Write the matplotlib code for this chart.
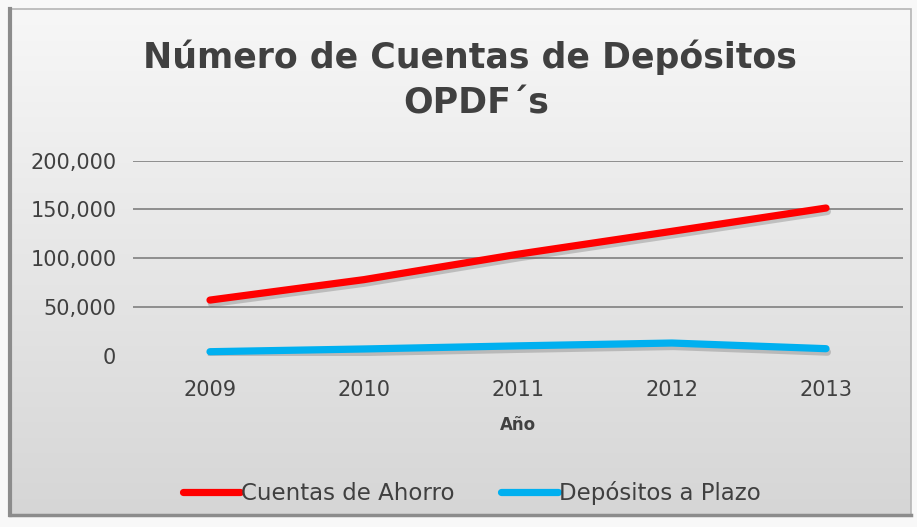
import numpy as np
import matplotlib.pyplot as plt
import matplotlib.patheffects as pe
from matplotlib.patches import Rectangle
from matplotlib.colors import LinearSegmentedColormap
from matplotlib.ticker import FuncFormatter

# data
years = ["2009", "2010", "2011", "2012", "2013"]
cuentas_ahorro = [56900, 77900, 104000, 127500, 151400]
depositos_plazo = [3900, 6700, 9900, 12800, 7000]
grid_levels = [50000, 100000, 150000, 200000]

W, H = 917, 527
fig = plt.figure(figsize=(W / 100, H / 100), dpi=100)
fig.patch.set_facecolor("#f8f8f8")

# background box with vertical gradient
bg = fig.add_axes([0, 0, 1, 1])
bg.set_xlim(0, W)
bg.set_ylim(H, 0)
bg.axis("off")
grad = np.linspace(0, 1, 256).reshape(-1, 1)
box = Rectangle((10, 9), 901, 506, facecolor="none", edgecolor="#b5b5b5", lw=1.2)
bg.add_patch(box)
im = bg.imshow(grad, cmap=LinearSegmentedColormap.from_list("g", ["#f7f7f7", "#d6d6d6"]),
               extent=(10, 911, 515, 9), aspect="auto", zorder=0)
im.set_clip_path(box)
# darker left / bottom edges
bg.plot([10, 10], [9, 515], color="#8c8c8c", lw=3, zorder=2)
bg.plot([10, 911], [515, 515], color="#8c8c8c", lw=2.5, zorder=2)

# title
fig.text(470 / W, 1 - 57 / H, "Número de Cuentas de Depósitos", ha="center", va="center",
         fontsize=25, fontweight="bold", color="#404040")
fig.text(476 / W, 1 - 104 / H, "OPDF´s", ha="center", va="center",
         fontsize=25, fontweight="bold", color="#404040")

ax = fig.add_axes([133 / W, 1 - 355.5 / H, 770 / W, (355.5 - 160.7) / H])
ax.set_facecolor("none")
x = np.arange(len(years))

for g in grid_levels:
    ax.axhline(g, color="#878787", lw=1.3, zorder=1)

shadow = [pe.SimpleLineShadow(offset=(1, -2.5), shadow_color="#606060", alpha=0.3),
          pe.Normal()]
ax.plot(x, cuentas_ahorro, color="#ff0000", lw=5.2, solid_capstyle="round",
        label="Cuentas de Ahorro", path_effects=shadow, zorder=3)
ax.plot(x, depositos_plazo, color="#00b0f0", lw=5.2, solid_capstyle="round",
        label="Depósitos a Plazo", path_effects=shadow, zorder=3)

ax.set_xlim(-0.5, 4.5)
ax.set_ylim(0, 200000)
ax.set_yticks([0] + grid_levels)
ax.yaxis.set_major_formatter(FuncFormatter(lambda v, p: f"{int(v):,}"))
ax.set_xticks(x)
ax.set_xticklabels(years)
ax.tick_params(length=0, labelsize=15, labelcolor="#404040")
ax.tick_params(axis="y", pad=12)
ax.tick_params(axis="x", pad=18)
for s in ax.spines.values():
    s.set_visible(False)
ax.set_xlabel("Año", fontsize=12, fontweight="bold", color="#404040", labelpad=11)

leg = ax.legend(loc="center", bbox_to_anchor=(0.44, -0.705), ncol=2, frameon=False,
                fontsize=16.5, handlelength=2.5, handletextpad=0.05, columnspacing=2.0)
for t in leg.get_texts():
    t.set_color("#404040")
for h in leg.get_lines():
    h.set_path_effects([])

fig.savefig("out.png", dpi=100)
